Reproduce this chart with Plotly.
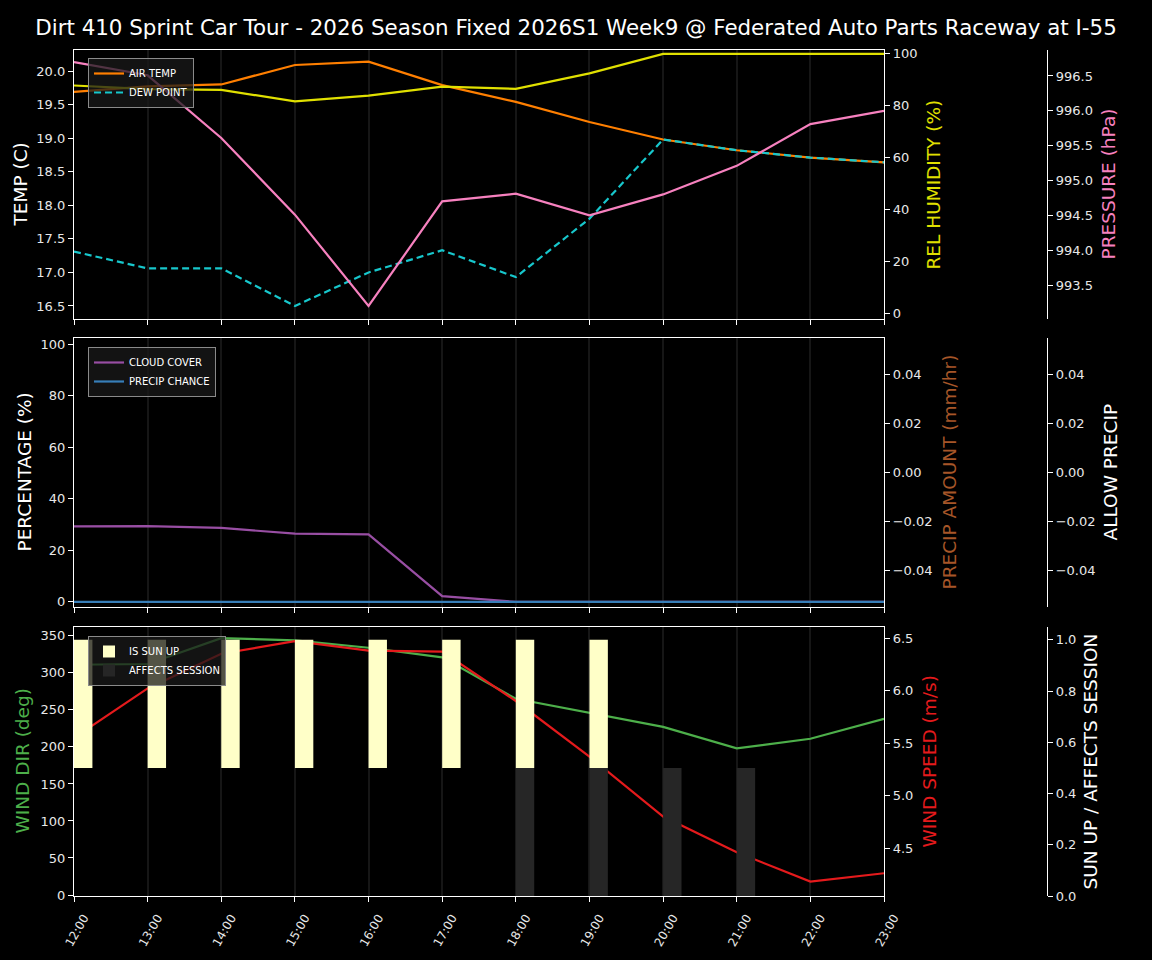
import plotly.graph_objects as go

# hourly forecast
hours = ['2026-03-07 12:00', '2026-03-07 13:00', '2026-03-07 14:00', '2026-03-07 15:00',
         '2026-03-07 16:00', '2026-03-07 17:00', '2026-03-07 18:00', '2026-03-07 19:00',
         '2026-03-07 20:00', '2026-03-07 21:00', '2026-03-07 22:00', '2026-03-07 23:00']

air_temp = [19.69, 19.77, 19.80, 20.09, 20.14, 19.79, 19.54, 19.24, 18.98, 18.82, 18.71, 18.64]
dew_point = [17.31, 17.06, 17.06, 16.50, 17.00, 17.33, 16.93, 17.80, 18.98, 18.82, 18.71, 18.64]
rel_humidity = [87.8, 86.4, 86.1, 81.7, 83.9, 87.4, 86.5, 92.5, 100, 100, 100, 100]
pressure = [996.70, 996.51, 995.61, 994.51, 993.20, 994.70, 994.81, 994.50, 994.80, 995.21, 995.81, 996.00]

cloud_cover = [29.3, 29.4, 28.7, 26.5, 26.2, 2.2, 0, 0, 0, 0, 0, 0]
precip_chance = [0, 0, 0, 0, 0, 0, 0, 0, 0, 0, 0, 0]
# no precip amount / allow precip line is drawn in the source
precip_amount = [None] * 12
allow_precip = [None] * 12

wind_dir = [311, 312, 347, 344, 334, 321, 265, 246, 227, 198, 211, 238]
wind_speed = [5.55, 6.02, 6.35, 6.47, 6.38, 6.37, 5.90, 5.37, 4.80, 4.46, 4.18, 4.26]
is_sun_up = [1, 1, 1, 1, 1, 1, 1, 1, 0, 0, 0, 0]
affects_session = [0, 0, 0, 0, 0, 0, 1, 1, 1, 1, 0, 0]

title = 'Dirt 410 Sprint Car Tour - 2026 Season Fixed 2026S1 Week9 @ Federated Auto Parts Raceway at I-55'

W, H = 1152, 960
FONT = 'DejaVu Sans'
TICKC = '#e8e8e8'

def py(top, bottom):
    return [1 - bottom / H, 1 - top / H]

d1 = py(50, 319)
d2 = py(338, 607)
d3 = py(627, 896)
xdom = [74 / W, 884 / W]
xfree = 1047 / W

fig = go.Figure()

# panel 1
fig.add_trace(go.Scatter(x=hours, y=air_temp, name='AIR TEMP', mode='lines',
                         line=dict(color='#ff7f00', width=2.2), xaxis='x', yaxis='y', legend='legend'))
fig.add_trace(go.Scatter(x=hours, y=dew_point, name='DEW POINT', mode='lines',
                         line=dict(color='#17c7cc', width=2.2, dash='7px,4px'), xaxis='x', yaxis='y', legend='legend'))
fig.add_trace(go.Scatter(x=hours, y=rel_humidity, name='REL HUMIDITY', mode='lines', showlegend=False,
                         line=dict(color='#e0e000', width=2.2), xaxis='x', yaxis='y2'))
fig.add_trace(go.Scatter(x=hours, y=pressure, name='PRESSURE', mode='lines', showlegend=False,
                         line=dict(color='#f781bf', width=2.2), xaxis='x', yaxis='y3'))

# panel 2
fig.add_trace(go.Scatter(x=hours, y=cloud_cover, name='CLOUD COVER', mode='lines',
                         line=dict(color='#984ea3', width=2.2), xaxis='x2', yaxis='y4', legend='legend2'))
fig.add_trace(go.Scatter(x=hours, y=precip_chance, name='PRECIP CHANCE', mode='lines',
                         line=dict(color='#377eb8', width=2.2), xaxis='x2', yaxis='y4', legend='legend2'))
fig.add_trace(go.Scatter(x=hours, y=precip_amount, name='PRECIP AMOUNT', mode='lines', showlegend=False,
                         line=dict(color='#a65628', width=2.2), xaxis='x2', yaxis='y5'))
fig.add_trace(go.Scatter(x=hours, y=allow_precip, name='ALLOW PRECIP', mode='lines', showlegend=False,
                         line=dict(color='white', width=2.2), xaxis='x2', yaxis='y6'))

# panel 3 bars (sun up sits on the upper half, session on the lower half)
bar_w = 15 * 60 * 1000
fig.add_trace(go.Bar(x=hours, y=[v * 0.5 for v in is_sun_up], base=0.5, name='IS SUN UP',
                     marker=dict(color='#ffffc8', line=dict(width=0)), width=bar_w, offset=0,
                     xaxis='x3', yaxis='y9', legend='legend3'))
fig.add_trace(go.Bar(x=hours, y=[v * 0.5 for v in affects_session], base=0, name='AFFECTS SESSION',
                     marker=dict(color='#262626', line=dict(width=0)), width=bar_w, offset=0,
                     xaxis='x3', yaxis='y9', legend='legend3'))
fig.add_trace(go.Scatter(x=hours, y=wind_dir, name='WIND DIR', mode='lines', showlegend=False,
                         line=dict(color='#4daf4a', width=2.2), xaxis='x3', yaxis='y7'))
fig.add_trace(go.Scatter(x=hours, y=wind_speed, name='WIND SPEED', mode='lines', showlegend=False,
                         line=dict(color='#e41a1c', width=2.2), xaxis='x3', yaxis='y8'))

xr = [hours[0], hours[-1]]

def xax(anchor, labels):
    return dict(domain=xdom, anchor=anchor, range=xr, type='date', dtick=3600000,
                tickformat='%H:%M', tickangle=-60, showticklabels=labels, automargin=False,
                ticklabelshift=10, ticklabelstandoff=4,
                ticks='outside', ticklen=5, tickcolor='white', tickfont=dict(size=12, color=TICKC),
                showline=True, linecolor='white', linewidth=1.2, mirror=True,
                showgrid=True, gridcolor='#161616', gridwidth=1.5, zeroline=False)

def yax(domain, rng, dtick, fmt, side='left', overlay=None, anchor=None, pos=None):
    a = dict(range=rng, dtick=dtick, tickformat=fmt, side=side, automargin=False,
             ticks='outside', ticklen=5, tickcolor='white', tickfont=dict(size=13, color=TICKC),
             showline=True, linecolor='white', linewidth=1.2, showgrid=False, zeroline=False)
    if overlay:
        a['overlaying'] = overlay
    else:
        a['domain'] = domain
    if anchor:
        a['anchor'] = anchor
    if pos is not None:
        a['position'] = pos
    return a

# axis titles: (text, colour, x px, panel)
axis_titles = [
    ('TEMP (C)', 'white', 20, d1),
    ('REL HUMIDITY (%)', '#e0e000', 933, d1),
    ('PRESSURE (hPa)', '#f781bf', 1108, d1),
    ('PERCENTAGE (%)', 'white', 24, d2),
    ('PRECIP AMOUNT (mm/hr)', '#a65628', 949, d2),
    ('ALLOW PRECIP', 'white', 1110, d2),
    ('WIND DIR (deg)', '#4daf4a', 22, d3),
    ('WIND SPEED (m/s)', '#e41a1c', 929, d3),
    ('SUN UP / AFFECTS SESSION', 'white', 1090, d3),
]
annotations = [dict(text=t, x=xp / W, y=(d[0] + d[1]) / 2, xref='paper', yref='paper',
                    xanchor='center', yanchor='middle', textangle=-90, showarrow=False,
                    font=dict(size=18.5, color=c))
               for t, c, xp, d in axis_titles]

legend_style = dict(bgcolor='rgba(25,25,25,0.75)', bordercolor='#8a8a8a', borderwidth=1,
                    font=dict(size=10, color='white'), xanchor='left', yanchor='top',
                    tracegroupgap=0, itemwidth=30)

fig.update_layout(
    width=W, height=H,
    paper_bgcolor='black', plot_bgcolor='black',
    font=dict(family=FONT, color='white'),
    margin=dict(l=0, r=0, t=0, b=0, autoexpand=False),
    title=dict(text=title, x=0.5, xanchor='center', y=1 - 28 / H, yanchor='middle',
               font=dict(size=21.4, color='white')),
    barmode='overlay',
    annotations=annotations,
    xaxis=xax('y', False),
    xaxis2=xax('y4', False),
    xaxis3=xax('y7', True),
    yaxis=yax(d1, [16.306, 20.313], 0.5, '.1f'),
    yaxis2=yax(d1, [-2.3, 101.5], 20, 'd', side='right', overlay='y', anchor='x'),
    yaxis3=yax(d1, [993.012, 996.873], 0.5, '.1f', side='right', overlay='y', anchor='free', pos=xfree),
    yaxis4=yax(d2, [-2, 102.5], 20, 'd'),
    yaxis5=yax(d2, [-0.055, 0.055], 0.02, '.2f', side='right', overlay='y4', anchor='x2'),
    yaxis6=yax(d2, [-0.055, 0.055], 0.02, '.2f', side='right', overlay='y4', anchor='free', pos=xfree),
    yaxis7=yax(d3, [-1.35, 362], 50, 'd'),
    yaxis8=yax(d3, [4.043, 6.605], 0.5, '.1f', side='right', overlay='y7', anchor='x3'),
    yaxis9=yax(d3, [0, 1.05], 0.2, '.1f', side='right', overlay='y7', anchor='free', pos=xfree),
    legend=dict(x=88 / W, y=1 - 58 / H, **legend_style),
    legend2=dict(x=88 / W, y=1 - 347 / H, **legend_style),
    legend3=dict(x=88 / W, y=1 - 636 / H, **legend_style),
)

fig.write_html("out.html", config={'displayModeBar': False},
               post_script="document.body.style.margin='0';document.body.style.background='black';")
